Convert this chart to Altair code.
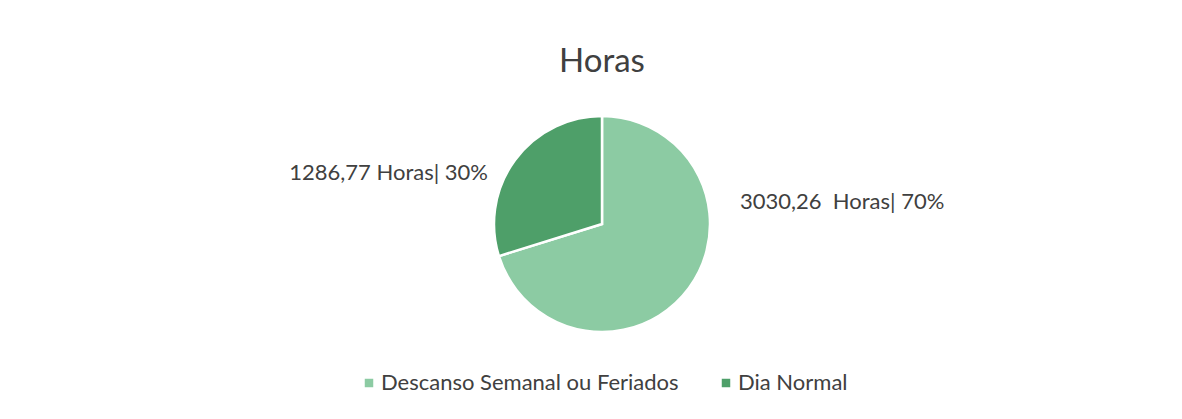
import altair as alt
import pandas as pd

categories = ["Descanso Semanal ou Feriados", "Dia Normal"]
hours = [3030.26, 1286.77]
percent = [70, 30]
colors = ["#8CCBA3", "#4E9F69"]
title_text = "Horas"

def fmt(v):
    return f"{v:.2f}".replace(".", ",")

df = pd.DataFrame({
    "cat": categories,
    "hours": hours,
    "pct": percent,
    "order": list(range(len(categories))),
})
df["label"] = [
    fmt(h) + ("\u00a0 " if i == 0 else " ") + "Horas| " + f"{p}%"
    for i, (h, p) in enumerate(zip(hours, percent))
]

W, H = 1166, 403
CX, CY = 594, 216
R = 108
FONT = "Lato"
TXT = "#404040"
FS = 22

base = alt.Chart(df)

pie = base.mark_arc(radius=R, stroke="white", strokeWidth=2.5).encode(
    theta=alt.Theta("hours:Q", stack=True),
    color=alt.Color(
        "cat:N",
        scale=alt.Scale(domain=categories, range=colors),
        legend=alt.Legend(
            title=None,
            orient="none",
            legendX=350,
            legendY=364,
            direction="horizontal",
            symbolType="square",
            symbolSize=72,
            symbolStrokeWidth=0,
            labelFont=FONT,
            labelFontSize=FS,
            labelColor=TXT,
            labelLimit=0,
            columnPadding=36,
            labelOffset=1,
        ),
    ),
    order=alt.Order("order:Q"),
    x=alt.value(CX),
    y=alt.value(CY),
)

lab_right = base.transform_filter(alt.datum.cat == categories[0]).mark_text(
    align="left", baseline="middle", font=FONT, fontSize=FS, color=TXT, dx=138, dy=-22
).encode(text="label:N", x=alt.value(CX), y=alt.value(CY))

lab_left = base.transform_filter(alt.datum.cat == categories[1]).mark_text(
    align="right", baseline="middle", font=FONT, fontSize=FS, color=TXT, dx=-114, dy=-51
).encode(text="label:N", x=alt.value(CX), y=alt.value(CY))

title = alt.Chart(pd.DataFrame({"t": [title_text]})).mark_text(
    align="center", baseline="alphabetic", font=FONT, fontSize=33, color=TXT
).encode(text="t:N", x=alt.value(CX), y=alt.value(64))

chart = alt.layer(pie, lab_right, lab_left, title).properties(
    width=W, height=H, padding=0,
    autosize=alt.AutoSizeParams(type="fit", contains="padding"),
    background="white",
).configure_view(stroke=None)

chart.save("out.html", embed_options={"renderer": "svg", "actions": False})
